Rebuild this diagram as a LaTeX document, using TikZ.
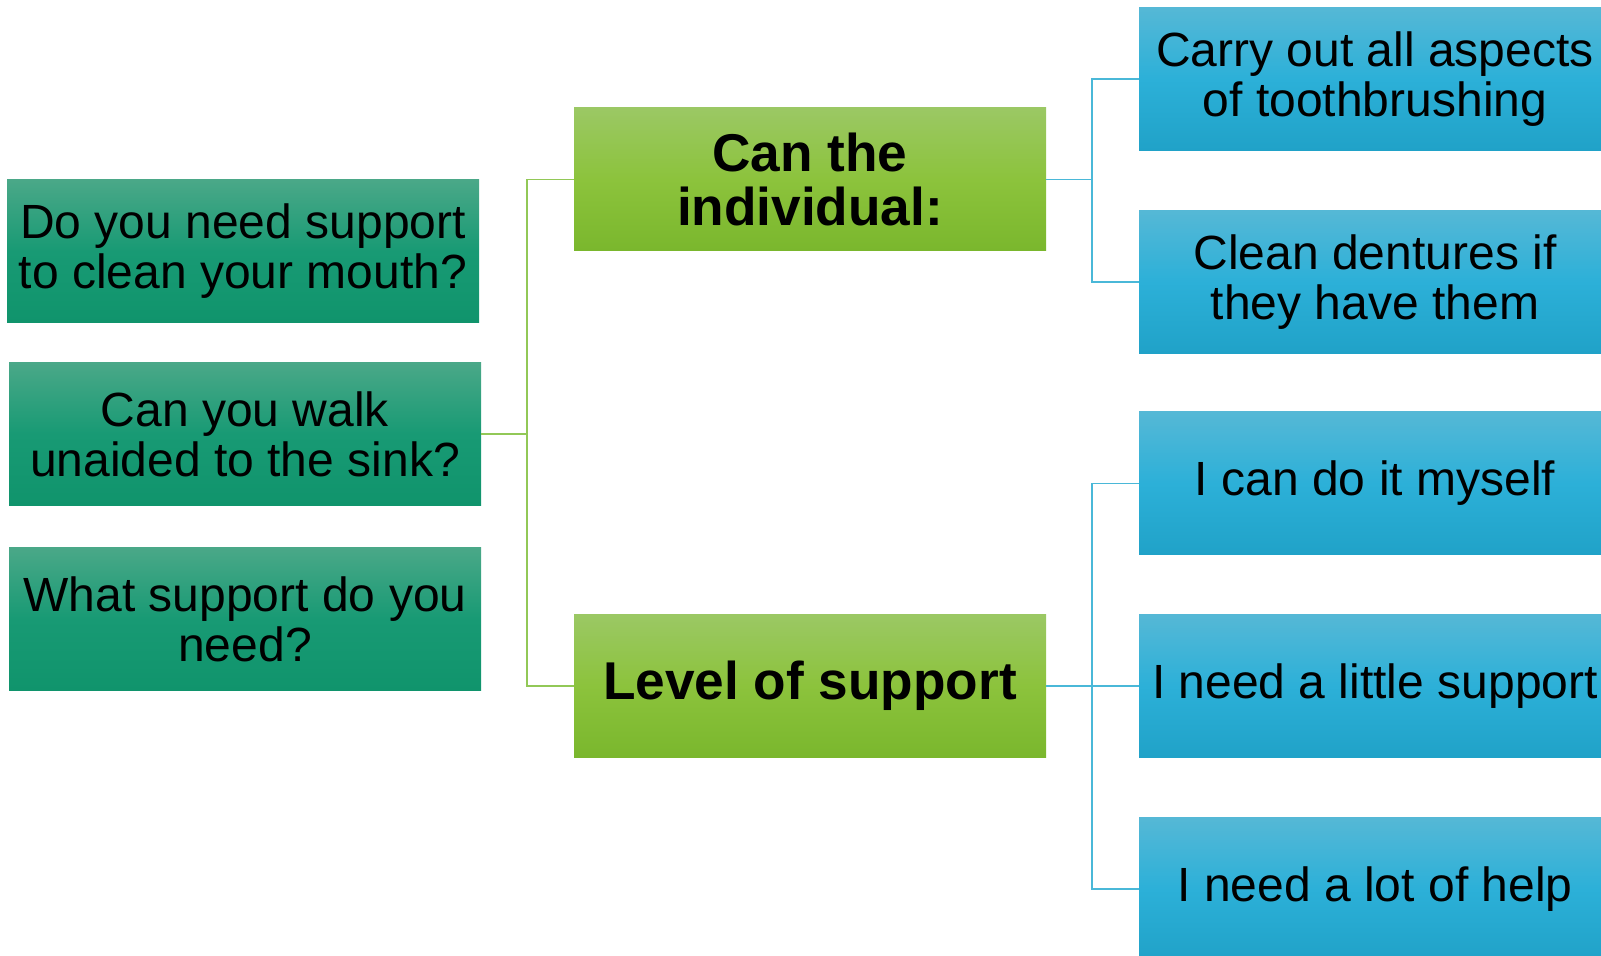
\documentclass[tikz,border=0pt]{standalone}
\usepackage{fontspec}
\setmainfont{Liberation Sans}
\usepackage{tikz}
\usepackage{color}
\definecolor{tealtop}{RGB}{74,168,136}
\definecolor{tealmid}{RGB}{24,154,116}
\definecolor{tealbot}{RGB}{16,148,108}
\definecolor{greentop}{RGB}{155,200,100}
\definecolor{greenmid}{RGB}{140,195,60}
\definecolor{greenbot}{RGB}{122,183,45}
\definecolor{bluetop}{RGB}{85,184,214}
\definecolor{bluemid}{RGB}{44,176,216}
\definecolor{bluebot}{RGB}{32,162,200}
\definecolor{greenline}{RGB}{146,200,87}
\definecolor{blueline}{RGB}{74,184,216}

\begin{document}
\begin{tikzpicture}
      [x = 0.5pt, y = 0.5pt,
      box/.style= {
         rectangle,
         inner sep = 0pt,
         minimum width = 236pt,
         minimum height = 71.5pt,
         align = center,
         font = \fontsize{24}{25}\selectfont
      },
      question/.style= {
         box,
         top color = tealtop,
         bottom color = tealbot,
         middle color = tealmid
      },
      heading/.style= {
         box,
         top color = greentop,
         bottom color = greenbot,
         middle color = greenmid,
         font = \fontsize{26.6}{27.2}\selectfont\bfseries
      },
      answer/.style= {
         box,
         top color = bluetop,
         bottom color = bluebot,
         middle color = bluemid
      },
      gwire/.style= {draw = greenline, line width = 0.75pt},
      bwire/.style= {draw = blueline, line width = 0.75pt}]

      \useasboundingbox (0, 0) rectangle (1601, 956);

      % questions on the left
      \node[question] (mouth) at (243, 704.5) {Do you need support\\to clean your mouth?};
      \node[question] (walk) at (245, 522) {Can you walk\\unaided to the sink?};
      \node[question] (need) at (245, 337) {What support do you\\need?};

      % headings
      \node[heading] (can) at (810, 776.5) {Can the\\individual:};
      \node[heading] (level) at (810, 270) {Level of support};

      % answers on the right
      \node[answer] (carry) at (1375, 877) {Carry out all aspects\\of toothbrushing};
      \node[answer] (dentures) at (1375, 674) {Clean dentures if\\they have them};
      \node[answer] (myself) at (1375, 472.5) {I can do it myself};
      \node[answer] (little) at (1375, 270) {I need a little support};
      \node[answer] (lothelp) at (1375, 67) {I need a lot of help};

      \coordinate (gtrunk) at (527, 0);
      \coordinate (bfork) at (1092, 0);

      \draw[gwire] (can.west) -- (can.west -| gtrunk) |- (level.west);
      \draw[gwire] (walk.east) -- (walk.east -| gtrunk);

      \draw[bwire] (can.east) -- (can.east -| bfork);
      \draw[bwire] (carry.west) -| (bfork |- can.east) |- (dentures.west);
      \draw[bwire] (level.east) -- (little.west);
      \draw[bwire] (myself.west) -| (bfork |- level.east) |- (lothelp.west);

   \end{tikzpicture}
\end{document}
